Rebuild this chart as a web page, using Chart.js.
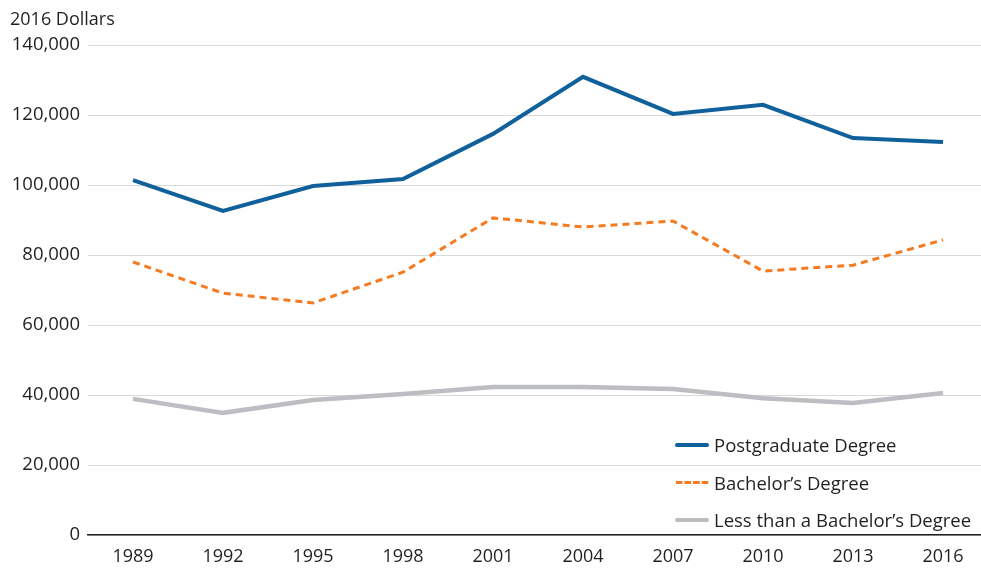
<!DOCTYPE html>
<html>
<head>
<meta charset="utf-8">
<script src="https://cdn.jsdelivr.net/npm/chart.js@4.4.1/dist/chart.umd.min.js"></script>
<style>
  html, body { margin: 0; padding: 0; background: #fff; overflow: hidden; }
  #wrap { position: relative; width: 990px; height: 569px; }
  #title { position: absolute; left: 10px; top: 6px; font: 18px "Open Sans", sans-serif; color: #231f20; }
  #legend { position: absolute; left: 675px; top: 426px; font: 18.5px "Open Sans", sans-serif; color: #231f20; }
  #legend div { height: 37.5px; display: flex; align-items: center; }
  #legend span.sw { display: inline-block; width: 34px; margin-right: 5px; }
</style>
</head>
<body>
<div id="wrap">
  <canvas id="chart" width="990" height="569"></canvas>
  <div id="title">2016 Dollars</div>
  <div id="legend"></div>
</div>
<script>
const years = ["1989", "1992", "1995", "1998", "2001", "2004", "2007", "2010", "2013", "2016"];
const postgrad = [101400, 92600, 99700, 101700, 114600, 130900, 120300, 122900, 113400, 112300];
const bachelor = [78000, 69100, 66300, 75100, 90600, 88000, 89700, 75400, 77100, 84300];
const lessThan = [38900, 34900, 38600, 40300, 42300, 42300, 41700, 39100, 37700, 40600];
const seriesNames = ["Postgraduate Degree", "Bachelor\u2019s Degree", "Less than a Bachelor\u2019s Degree"];

const blue = "#0f609b";
const orange = "#f47b20";
const grey = "#bdbec2";

const datasets = [
  { label: seriesNames[0], data: postgrad, borderColor: blue, borderWidth: 4 },
  { label: seriesNames[1], data: bachelor, borderColor: orange, borderWidth: 3, borderDash: [7, 5] },
  { label: seriesNames[2], data: lessThan, borderColor: grey, borderWidth: 4.5 },
].map(d => Object.assign(d, { fill: false, pointRadius: 0, tension: 0 }));

// html legend
const legendEl = document.getElementById("legend");
datasets.forEach(d => {
  const row = document.createElement("div");
  const sw = document.createElement("span");
  sw.className = "sw";
  sw.style.borderTop = d.borderDash ? `3px dashed ${d.borderColor}` : `4px solid ${d.borderColor}`;
  sw.style.borderRadius = "2px";
  row.appendChild(sw);
  row.appendChild(document.createTextNode(d.label));
  legendEl.appendChild(row);
});

const ctx = document.getElementById("chart").getContext("2d");
new Chart(ctx, {
  type: "line",
  data: { labels: years, datasets: datasets },
  options: {
    responsive: false,
    animation: false,
    layout: { padding: { top: 45, right: 2, left: 0, bottom: 0 } },
    plugins: { legend: { display: false }, tooltip: { enabled: false } },
    scales: {
      x: {
        offset: true,
        grid: { display: false },
        border: { color: "#231f20", width: 1.5 },
        ticks: { color: "#231f20", font: { family: "Open Sans", size: 18 }, padding: 3, maxRotation: 0 },
        afterFit: s => { s.height = 34; },
      },
      y: {
        min: 0,
        max: 140000,
        border: { display: false },
        grid: { color: "#d9d9d9", lineWidth: 1, drawTicks: false },
        ticks: {
          stepSize: 20000,
          color: "#231f20",
          font: { family: "Open Sans", size: 18.5 },
          padding: 8,
          callback: v => v.toLocaleString("en-US"),
        },
        afterFit: s => { s.width = 88; },
      },
    },
  },
});
</script>
</body>
</html>
